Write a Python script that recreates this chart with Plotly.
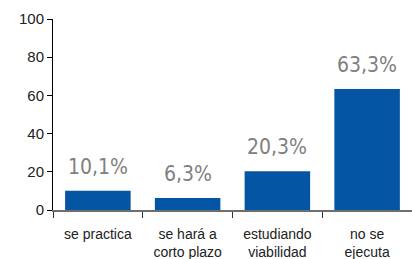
import plotly.graph_objects as go

categories = ["se practica", "se hará a<br>corto plazo", "estudiando<br>viabilidad", "no se<br>ejecuta"]
values = [10.1, 6.3, 20.3, 63.3]
y_ticks = [0, 20, 40, 60, 80, 100]

fig = go.Figure()
fig.add_trace(go.Bar(
    x=categories, y=values,
    marker=dict(color="#0455A4", line=dict(width=0)),
    width=0.73,
    hoverinfo="skip",
))

for c, v in zip(categories, values):
    fig.add_annotation(
        x=c, y=v, text=f"{v:.1f}".replace(".", ",") + "%",
        showarrow=False, yanchor="bottom", yshift=10,
        font=dict(family="DejaVu Sans Condensed, Liberation Sans Narrow, sans-serif", size=21, color="#808080"),
    )

fig.update_layout(
    width=412, height=259,
    margin=dict(l=53, r=0, t=19, b=49, autoexpand=False),
    paper_bgcolor="white", plot_bgcolor="white",
    showlegend=False,
    bargap=0.27,
)
fig.update_yaxes(
    range=[0, 100], tickvals=y_ticks, showgrid=False, zeroline=False,
    automargin=False,
    showline=True, linecolor="#000000", linewidth=1,
    ticks="outside", ticklen=5, tickcolor="#000000",
    tickfont=dict(family="Liberation Sans, Arial, sans-serif", size=15, color="#222222"),
)
fig.update_xaxes(
    showgrid=False, showline=True, linecolor="#6e6e6e", linewidth=2,
    automargin=False,
    ticks="outside", ticklen=6, tickcolor="#333333", tickson="boundaries",
    ticklabelstandoff=10,
    tickfont=dict(family="Liberation Sans, Arial, sans-serif", size=14, color="#222222"),
)

fig.write_html("out.html", config={"displayModeBar": False},
               post_script="document.body.style.margin='0';document.body.style.padding='0';")
